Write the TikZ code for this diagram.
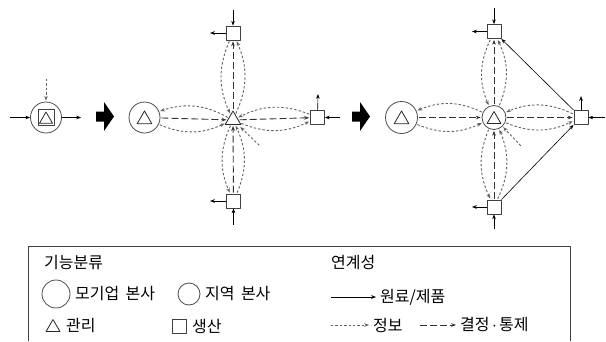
\documentclass[tikz,border=0pt]{standalone}
\usepackage{fontspec}
\setmainfont{Noto Sans CJK KR}
\usetikzlibrary{arrows.meta,shapes.geometric}

\begin{document}
\begin{tikzpicture}[x=1pt,y=-1pt,line join=round,
    >={Stealth[length=4.8pt,width=3.6pt]},
    hq/.style={circle,draw=black!70,line width=.8pt,inner sep=0},
    mgmt/.style={regular polygon,regular polygon sides=3,draw=black!85,line width=.8pt,inner sep=0},
    prod/.style={rectangle,draw=black!75,line width=.8pt,inner sep=0,minimum size=14},
    flow/.style={->,line width=.6pt,black},
    info/.style={->,line width=.9pt,black!62,dash pattern=on 2.4pt off 2pt,shorten >=1pt,shorten <=1pt},
    ctrl/.style={->,line width=.9pt,black!80,dash pattern=on 7pt off 3pt,shorten >=1pt,shorten <=1pt},
    label/.style={anchor=west,inner sep=0,font=\fontsize{16}{18}\selectfont}]
    \useasboundingbox(0,0)rectangle(606,341);
    % step 1
    \node[hq,minimum size=31](hq1)at(46,117.5){};
    \node[prod,minimum size=16](pd1)at(hq1){};
    \node[mgmt,minimum size=15](mg1)at(46,119.5){};
    \path(10,117.5)coordinate(in1)(81,117.5)coordinate(out1)(46,78)coordinate(top1);
    \draw[flow](in1)--(hq1);
    \draw[flow](hq1)--(out1);
    \draw[info](top1)--(hq1);
    % big arrows
    \foreach \x in{96,352}\fill(\x,111.5)--++(8,0)--++(0,-9.5)--++(10,14.5)--++(-10,14.5)--++(0,-9.5)--++(-8,0)--cycle;
    % step 2
    \node[hq,minimum size=31](hq2)at(144.5,117.5){};
    \node[mgmt,minimum size=17](mg2a)at(144.5,119.5){};
    \node[mgmt,minimum size=18](mg2)at(233,120){};
    \node[prod](pt2)at(233,33){};
    \node[prod](pr2)at(317.5,117.5){};
    \node[prod](pb2)at(233.5,201){};
    \draw[ctrl](hq2)--(mg2);
    \draw[ctrl](mg2)--(pr2);
    \draw[ctrl](mg2)--(pt2);
    \draw[ctrl](pb2)--(mg2);
    \foreach \a/\b in{mg2/hq2,hq2/mg2,pr2/mg2,mg2/pr2,pt2/mg2,mg2/pt2,mg2/pb2,pb2/mg2}\draw[info](\a)to[bend right=24](\b);
    \path(260,146)coordinate(fb2)(233,10)coordinate(pt2i)(210,33)coordinate(pt2o)
        (318,94)coordinate(pr2o)(340,117.5)coordinate(pr2i)(210,201)coordinate(pb2o)(233.5,225)coordinate(pb2i);
    \draw[info,shorten >=3pt](fb2)--(mg2);
    \draw[flow](pt2i)--(pt2);
    \draw[flow](pt2)--(pt2o);
    \draw[flow](pr2)--(pr2o);
    \draw[flow](pr2i)--(pr2);
    \draw[flow](pb2)--(pb2o);
    \draw[flow](pb2i)--(pb2);
    % step 3
    \node[hq,minimum size=32](hq3)at(401.5,117.5){};
    \node[mgmt,minimum size=17](mg3a)at(401.5,119.5){};
    \node[hq,minimum size=24](rg3)at(494,117.5){};
    \node[mgmt,minimum size=16](mg3)at(494,119.5){};
    \node[prod](pt3)at(494,31.5){};
    \node[prod](pr3)at(581,117.5){};
    \node[prod](pb3)at(494,207){};
    \draw[ctrl](hq3)--(rg3);
    \draw[ctrl](rg3)--(pr3);
    \draw[ctrl](rg3)--(pt3);
    \draw[ctrl](pb3)--(rg3);
    \foreach \a/\b in{rg3/hq3,hq3/rg3,pr3/rg3,rg3/pr3,pt3/rg3,rg3/pt3,rg3/pb3,pb3/rg3}\draw[info](\a)to[bend right=24](\b);
    \path(521.5,146.5)coordinate(fb3)(494,8)coordinate(pt3i)(472,31.5)coordinate(pt3o)
        (581,96)coordinate(pr3o)(605,117.5)coordinate(pr3i)(472,207)coordinate(pb3o)(494,229)coordinate(pb3i);
    \draw[info](fb3)--(rg3);
    \draw[flow](pt3i)--(pt3);
    \draw[flow](pt3)--(pt3o);
    \draw[flow](pr3)--(pr3o);
    \draw[flow](pr3i)--(pr3);
    \draw[flow](pb3)--(pb3o);
    \draw[flow](pb3i)--(pb3);
    \draw[flow](pr3.north west)--(pt3.south east);
    \draw[flow](pb3.north east)--(pr3.south west);
    % legend
    \draw[black!75,line width=.8pt](28.5,341)|-(570.5,246)--(570.5,341);
    \node[label](kind)at(44,263){기능분류};
    \node[label](link)at(331,263){연계성};
    \node[hq,minimum size=28](lghq)at(56,294){};
    \node[label](lghqt)at(75,294){모기업\hspace{.4em}본사};
    \node[hq,minimum size=22](lgrg)at(189,294){};
    \node[label](lgrgt)at(205,294){지역\hspace{.4em}본사};
    \node[mgmt,minimum size=16](lgmg)at(53,327.5){};
    \node[label](lgmgt)at(66,326){관리};
    \node[prod](lgpd)at(179,326){};
    \node[label](lgpdt)at(192,326){생산};
    \path(331,297)coordinate(lf1)(376,297)coordinate(lf2)(331,325)coordinate(li1)(369,325)coordinate(li2)
        (420,325)coordinate(lc1)(456,325)coordinate(lc2);
    \draw[flow](lf1)--(lf2);
    \draw[info,shorten <=0pt,shorten >=0pt](li1)--(li2);
    \draw[ctrl,shorten <=0pt,shorten >=0pt](lc1)--(lc2);
    \node[label](lft)at(380,297){원료/제품};
    \node[label](lit)at(373,325){정보};
    \node[label](lct)at(460,325){결정\hspace{.15em}$\cdot$\hspace{.15em}통제};
\end{tikzpicture}
\end{document}
